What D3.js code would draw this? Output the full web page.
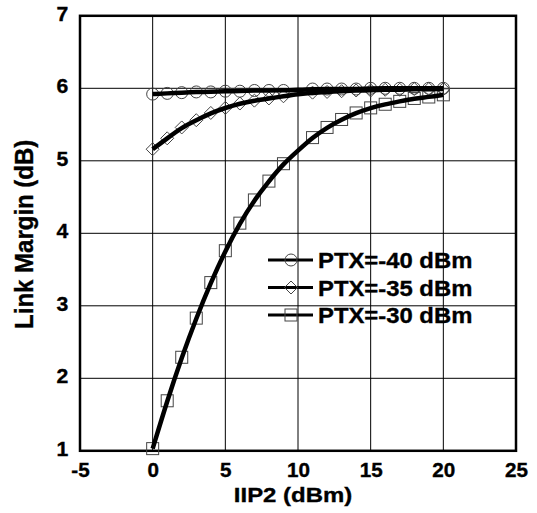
<!DOCTYPE html>
<html>
<head>
<meta charset="utf-8">
<script src="https://cdn.jsdelivr.net/npm/d3@7/dist/d3.min.js"></script>
<style>
  html, body { margin: 0; padding: 0; background: #fff; }
  svg { display: block; }
  text { font-family: "Liberation Sans", Arial, sans-serif; font-weight: bold; fill: #000; stroke: #000; stroke-width: 0.35px; }
</style>
</head>
<body>
<svg id="chart" width="537" height="513"></svg>
<script>
// ---- data ----
const iip2 = [0,1,2,3,4,5,6,7,8,9,10,11,12,13,14,15,16,17,18,19,20];
const markerSkip = [10]; // no marker drawn at this x in the reference
const ptx40 = [5.92,5.93,5.94,5.95,5.95,5.96,5.96,5.97,5.97,5.97,5.98,5.99,5.99,5.99,5.99,6.00,6.00,6.00,6.00,6.00,6.00];
const ptx35 = [5.16,5.31,5.46,5.56,5.66,5.73,5.79,5.83,5.86,5.89,5.92,5.94,5.95,5.96,5.97,5.97,5.98,5.98,5.99,5.99,5.99];
const ptx30 = [1.03,1.69,2.29,2.83,3.32,3.76,4.14,4.46,4.72,4.96,5.14,5.32,5.46,5.57,5.66,5.73,5.78,5.82,5.86,5.88,5.91];
const seriesNames = ["PTX=-40 dBm","PTX=-35 dBm","PTX=-30 dBm"];
const markerTypes = ["circle","diamond","square"];
const xTicks = [-5,0,5,10,15,20,25];
const yTicks = [1,2,3,4,5,6,7];
const xTitle = "IIP2 (dBm)";
const yTitle = "Link Margin (dB)";

// ---- layout ----
const L = 80, R = 516, T = 15.8, B = 450.8;
const svg = d3.select("#chart");
const x = d3.scaleLinear().domain([-5,25]).range([L,R]);
const y = d3.scaleLinear().domain([1,7]).range([B,T]);

// grid
const g = svg.append("g");
g.selectAll("line.vx").data(xTicks).enter().append("line")
  .attr("x1", d=>x(d)).attr("x2", d=>x(d)).attr("y1", T).attr("y2", B)
  .attr("stroke","#000").attr("stroke-width",1);
g.selectAll("line.hy").data(yTicks).enter().append("line")
  .attr("y1", d=>y(d)).attr("y2", d=>y(d)).attr("x1", L).attr("x2", R)
  .attr("stroke","#000").attr("stroke-width",1);

// axes via d3 axis (labels only)
const xAxis = svg.append("g").attr("transform",`translate(0,${B})`)
  .call(d3.axisBottom(x).tickValues(xTicks).tickSize(0).tickPadding(12).tickFormat(d => String(d)));
xAxis.select(".domain").remove();
xAxis.attr("font-size", 19.5).attr("font-family", null);
xAxis.selectAll("text").style("font-size","19.5px").attr("dy","0.71em")
  .attr("transform","scale(1.06,1)");

const yAxis = svg.append("g").attr("transform",`translate(${L},0)`)
  .call(d3.axisLeft(y).tickValues(yTicks).tickSize(0).tickPadding(11).tickFormat(d => String(d)));
yAxis.select(".domain").remove();
yAxis.attr("font-size", 20).attr("font-family", null);
yAxis.selectAll("text").style("font-size","20px").attr("dy","0.22em")
  .attr("transform","scale(1.06,1)");

// frame
svg.append("rect").attr("x",L).attr("y",T).attr("width",R-L).attr("height",B-T)
  .attr("fill","none").attr("stroke","#000").attr("stroke-width",2.5);

// titles
svg.append("text").attr("transform","translate(293,502) scale(1.14,1)").attr("text-anchor","middle")
  .style("font-size","21px").text(xTitle);
svg.append("text").attr("transform","translate(33,234.3) rotate(-90) scale(1,1.05)").attr("text-anchor","middle")
  .style("font-size","24px").text(yTitle);

// markers
function drawMarker(sel, type, cx, cy) {
  const st = "#444";
  if (type === "circle") {
    sel.append("circle").attr("cx",cx).attr("cy",cy).attr("r",6)
      .attr("fill","none").attr("stroke",st).attr("stroke-width",1);
  } else if (type === "diamond") {
    const s = 6.5;
    sel.append("path").attr("d",`M${cx},${cy-s}L${cx+s},${cy}L${cx},${cy+s}L${cx-s},${cy}Z`)
      .attr("fill","none").attr("stroke",st).attr("stroke-width",1);
  } else {
    const s = 6;
    sel.append("rect").attr("x",cx-s).attr("y",cy-s).attr("width",2*s).attr("height",2*s)
      .attr("fill","none").attr("stroke",st).attr("stroke-width",1);
  }
}

const allSeries = [ptx40, ptx35, ptx30];
const line = d3.line().x(d=>x(d[0])).y(d=>y(d[1])).curve(d3.curveBasis);
const mg = svg.append("g");
const lg = svg.append("g");
allSeries.forEach((vals, i) => {
  const pts = iip2.map((xv, j) => [xv, vals[j]]);
  pts.filter(p => !markerSkip.includes(p[0])).forEach(p => drawMarker(mg, markerTypes[i], x(p[0]), y(p[1])));
  lg.append("path").datum(pts).attr("d", line)
    .attr("fill","none").attr("stroke","#000").attr("stroke-width",4.5).attr("stroke-linecap","butt");
});

// legend
const legY = [260, 287.5, 315];
const leg = svg.append("g");
seriesNames.forEach((name, i) => {
  const yy = legY[i];
  leg.append("line").attr("x1",268).attr("x2",313).attr("y1",yy).attr("y2",yy)
    .attr("stroke","#000").attr("stroke-width",3);
  drawMarker(leg, markerTypes[i], 291, yy);
  leg.append("text").attr("transform",`translate(318,${yy}) scale(1.06,1)`).attr("dy","0.36em")
    .style("font-size","22.5px").text(name);
});
</script>
</body>
</html>
